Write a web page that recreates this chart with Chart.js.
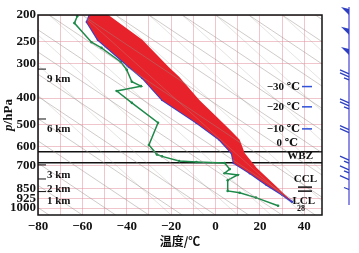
<!DOCTYPE html>
<html>
<head>
<meta charset="utf-8">
<script src="https://cdn.jsdelivr.net/npm/chart.js@4.4.1/dist/chart.umd.min.js"></script>
<style>
html, body { margin: 0; padding: 0; background: #fff; }
#wrap { width: 359px; height: 253px; position: relative; }
</style>
</head>
<body>
<div id="wrap"><canvas id="chart"></canvas></div>
<script>
// 환경 기온 (hPa, ℃)
const envPressure = [198, 212, 246, 308, 338, 406, 491, 566, 633, 687, 748, 824, 894, 950];
const envTemp = [-56.5, -58, -53, -39, -33, -24, -8.6, 1.8, 7.3, 8.2, 15.5, 23, 30, 34.5];

// 상승 기괴 (parcel) 곡선
const parcelPressure = [198, 246, 309, 335, 406, 467, 520, 566, 633, 716, 840, 950];
const parcelTemp = [-49, -33, -21, -16.4, -7.3, 0.5, 6.4, 10.9, 13.2, 18.6, 27.7, 34.5];

// 이슬점
const dewPressure = [202, 214, 251, 263, 296, 316, 349, 362, 377, 416, 491, 591, 640, 650, 676, 681, 687, 723, 748, 759, 793, 867, 881, 917, 981];
const dewTemp = [-62.3, -63.6, -55.9, -51.4, -42.7, -40, -37.7, -33.6, -44.5, -37.7, -25.9, -30, -26.4, -24.1, -16.4, -8.6, 4.1, 6.4, 4.1, 10, 5.5, 5.5, 10.9, 18.2, 28.2];

// 0℃ 층, WBZ 층
const levelLinePressure = [626, 686];

// 배경 단열선 (1060 hPa / 200 hPa 에서의 온도)
const dryBase = [-75, -60, -45, -30, -15, 0, 15, 30, 45, 60, 75, 90, 105, 120, 135, 150, 165, 180];
const dryTop = [-210, -195, -180, -165, -150, -135, -120, -105, -90, -75, -60, -45, -30, -15, 0, 15, 30, 45];
const moistBase = [-20, -5, 10, 25, 40, 55, 70, 85, 100, 115, 130];
const moistTop = [-120, -105, -90, -75, -60, -45, -30, -15, 0, 15, 30];

// 축 눈금
const yTicks = [200, 250, 300, 400, 500, 600, 700, 850, 925, 1000];
const xGrid = [-80, -70, -60, -50, -40, -30, -20, -10, 0, 10, 20, 30, 40];
const xLabels = [-80, -60, -40, -20, 0, 20, 40];

// 고도 표시
const kmText = ['9 km', '6 km', '3 km', '2 km', '1 km'];
const kmPressure = [314, 476, 698, 785, 872];

// 오른쪽 층 표시
const levelText = ['−30 ℃', '−20 ℃', '−10 ℃', '0 ℃', 'WBZ', 'CCL', '=', 'LCL', '28'];
const levelPressure = [364, 431, 518, 582, 649, 788, 856, 941, 1008];

// 바람 (hPa, m/s)
const windPressure = [195, 230, 272, 327, 416, 520, 671, 728, 789, 857];
const windSpeed = [50, 50, 50, 25, 25, 20, 15, 15, 10, 5];

const SERIF = "'Liberation Serif', 'DejaVu Serif', serif";
const pts = (ps, ts) => ps.map((p, i) => ({ x: ts[i], y: p }));

const datasets = [];

// 배경 선
dryBase.forEach((b, i) => {
    datasets.push({
        data: [{ x: b, y: 1060 }, { x: dryTop[i], y: 200 }],
        borderColor: 'rgba(150, 140, 135, 0.45)', borderWidth: 1, pointRadius: 0
    });
});
moistBase.forEach((b, i) => {
    datasets.push({
        data: [{ x: b, y: 1060 }, { x: moistTop[i], y: 200 }],
        borderColor: 'rgba(170, 165, 160, 0.3)', borderWidth: 1, pointRadius: 0
    });
});

// 빨간 영역 (환경 + 상승 곡선)
datasets.push({
    data: pts(envPressure, envTemp).concat(pts(parcelPressure, parcelTemp).reverse()),
    borderWidth: 0, pointRadius: 0, fill: 'shape',
    backgroundColor: '#e8222a'
});

// 환경 기온 선
datasets.push({
    data: pts(envPressure, envTemp),
    borderColor: '#2f3fd2', borderWidth: 2,
    pointRadius: 1.2, pointBackgroundColor: '#2f3fd2', pointBorderWidth: 0
});

// 이슬점 선
datasets.push({
    data: pts(dewPressure, dewTemp),
    borderColor: '#1d8a4a', borderWidth: 1.5,
    pointRadius: 1.3, pointBackgroundColor: '#1d8a4a', pointBorderWidth: 0
});

// 0℃ / WBZ 선
levelLinePressure.forEach(p => {
    datasets.push({
        data: [{ x: -80, y: p }, { x: 48, y: p }],
        borderColor: '#111', borderWidth: 1.5, pointRadius: 0
    });
});

// 주석 플러그인
const annotate = {
    id: 'annotate',
    afterDatasetsDraw(chart) {
        const { ctx, chartArea: a, scales: { y } } = chart;
        ctx.save();
        // 테두리
        ctx.strokeStyle = '#111';
        ctx.lineWidth = 1.5;
        ctx.strokeRect(a.left, a.top, a.right - a.left, a.bottom - a.top);

        // 고도 표시
        ctx.fillStyle = '#111';
        ctx.lineWidth = 1;
        ctx.font = 'bold 11px ' + SERIF;
        ctx.textBaseline = 'middle';
        ctx.textAlign = 'left';
        kmText.forEach((t, i) => {
            const py = y.getPixelForValue(kmPressure[i]);
            ctx.beginPath();
            ctx.moveTo(a.left, py);
            ctx.lineTo(a.left + 8, py);
            ctx.stroke();
            ctx.fillText(t, a.left + 9, py + 10);
        });

        // 오른쪽 층 표시
        const rightX = [300, 300, 300, 298, 313, 317, 0, 315, 305];
        levelText.forEach((t, i) => {
            const py = y.getPixelForValue(levelPressure[i]);
            if (t === '=') {
                ctx.fillRect(298, py - 3, 14, 1.5);
                ctx.fillRect(298, py + 1, 14, 1.5);
                return;
            }
            ctx.font = (t === '28' ? 'bold 8px ' : 'bold 11px ') + SERIF;
            ctx.textAlign = 'right';
            ctx.fillStyle = '#111';
            ctx.fillText(t, rightX[i], py);
            if (i < 3) {
                ctx.fillStyle = '#3050d8';
                ctx.fillRect(302, py - 1, 10, 1.5);
            }
        });

        // y 축 제목
        ctx.fillStyle = '#111';
        ctx.translate(9, (a.top + a.bottom) / 2);
        ctx.rotate(-Math.PI / 2);
        ctx.font = 'italic bold 13px ' + SERIF;
        const w1 = ctx.measureText('p').width;
        ctx.font = 'bold 13px ' + SERIF;
        const w2 = ctx.measureText('/hPa').width;
        ctx.textAlign = 'left';
        ctx.font = 'italic bold 13px ' + SERIF;
        ctx.fillText('p', -(w1 + w2) / 2, 0);
        ctx.font = 'bold 13px ' + SERIF;
        ctx.fillText('/hPa', -(w1 + w2) / 2 + w1, 0);
        ctx.restore();
    },
    afterDraw(chart) {
        // 바람 깃
        const { ctx, scales: { y } } = chart;
        const x0 = 349;
        ctx.save();
        ctx.strokeStyle = '#6a68d8';
        ctx.lineWidth = 1.5;
        ctx.beginPath();
        ctx.moveTo(x0, y.getPixelForValue(187));
        ctx.lineTo(x0, y.getPixelForValue(975));
        ctx.stroke();
        ctx.strokeStyle = '#2c3fc0';
        ctx.fillStyle = '#2c3fc0';
        ctx.lineWidth = 1.3;
        windPressure.forEach((p, i) => {
            let py = y.getPixelForValue(p);
            let s = windSpeed[i];
            while (s >= 50) {
                ctx.beginPath();
                ctx.moveTo(x0, py - 3);
                ctx.lineTo(x0 - 8, py - 5);
                ctx.lineTo(x0, py + 3);
                ctx.closePath();
                ctx.fill();
                py += 6;
                s -= 50;
            }
            while (s >= 10) {
                ctx.beginPath();
                ctx.moveTo(x0, py);
                ctx.lineTo(x0 - 9, py - 4);
                ctx.stroke();
                py += 3;
                s -= 10;
            }
            if (s >= 5) {
                ctx.beginPath();
                ctx.moveTo(x0, py);
                ctx.lineTo(x0 - 5, py - 2);
                ctx.stroke();
            }
        });
        ctx.restore();
    }
};

const tickFont = { family: SERIF, size: 13, weight: 'bold' };
const pink = 'rgba(228, 150, 160, 0.55)';

new Chart(document.getElementById('chart'), {
    type: 'line',
    data: { datasets: datasets },
    options: {
        responsive: true,
        maintainAspectRatio: false,
        devicePixelRatio: 1,
        animation: false,
        layout: { padding: { top: 15, right: 37, left: 0, bottom: 0 } },
        elements: { line: { tension: 0 } },
        plugins: { legend: { display: false }, tooltip: { enabled: false } },
        scales: {
            x: {
                type: 'linear', min: -80, max: 48,
                afterBuildTicks: s => { s.ticks = xGrid.map(v => ({ value: v })); },
                afterFit: s => { s.height = 38; },
                ticks: {
                    color: '#111', font: tickFont, padding: 4, maxRotation: 0, autoSkip: false,
                    callback: v => xLabels.includes(v) ? (v < 0 ? '−' + Math.abs(v) : String(v)) : ''
                },
                grid: { color: pink, lineWidth: 1, drawTicks: false },
                border: { display: false },
                title: {
                    display: true, text: '温度/℃', color: '#111',
                    font: { family: "'Noto Sans CJK SC'", size: 12, weight: 'bold' },
                    padding: { top: 0, bottom: 4 }
                }
            },
            y: {
                type: 'logarithmic', reverse: true, min: 200, max: 1060,
                afterBuildTicks: s => { s.ticks = yTicks.map(v => ({ value: v })); },
                afterFit: s => { s.width = 38; },
                ticks: { color: '#111', font: tickFont, padding: 2, autoSkip: false, callback: v => String(v) },
                grid: { color: pink, lineWidth: 1, drawTicks: false },
                border: { display: false }
            }
        }
    },
    plugins: [annotate]
});
</script>
</body>
</html>
